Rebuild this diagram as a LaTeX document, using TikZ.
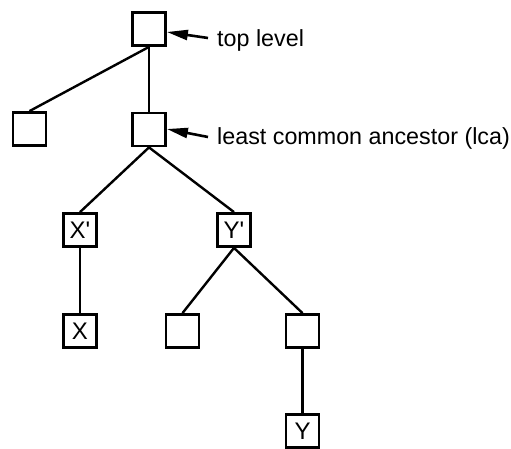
\documentclass[tikz,border=0pt]{standalone}
\usepackage{fontspec}
\setmainfont{Liberation Sans}
\newfontfamily\boxfont{Liberation Sans}
\usetikzlibrary{arrows.meta}
\begin{document}
\begin{tikzpicture}[x=1pt,y=-1pt,
  box/.style={draw,line width=2.8pt,minimum width=33pt,minimum height=33pt,inner sep=0pt,font=\boxfont\fontsize{24}{26}\selectfont},
  edge/.style={line width=2.4pt},
  lbl/.style={anchor=west,inner sep=0pt,font=\fontsize{23.3}{26}\selectfont},
  pointer/.style={line width=2.6pt,-{Triangle[length=21pt,width=10pt]}}]
\useasboundingbox (0,0) rectangle (511,449);
\node[box] (top) at (149,29) {};
\node[box] (left) at (29.5,129) {};
\node[box] (lca) at (149,129.5) {};
\node[box] (xp) at (80,230) {X'};
\node[box] (yp) at (234,230) {Y'};
\node[box] (x) at (80,331) {X};
\node[box] (s) at (182.5,331) {};
\node[box] (r) at (302.5,331) {};
\node[box] (y) at (302.5,431) {Y};
\draw[edge] (top.south) -- (left.north);
\draw[edge] (top.south) -- (lca.north);
\draw[edge] (lca.south) -- (xp.north);
\draw[edge] (lca.south) -- (yp.north);
\draw[edge] (xp.south) -- (x.north);
\draw[edge] (yp.south) -- (s.north);
\draw[edge] (yp.south) -- (r.north);
\draw[edge] (r.south) -- (y.north);
\node[lbl] (t1) at (217,40) {top level};
\node[lbl] (t2) at (217,138) {least common ancestor (lca)};
\coordinate (a1) at (208,38);
\coordinate (a2) at (208,137);
\draw[pointer] (a1) -- (top.east |- 0,32);
\draw[pointer] (a2) -- (lca.east |- 0,129);
\end{tikzpicture}
\end{document}
